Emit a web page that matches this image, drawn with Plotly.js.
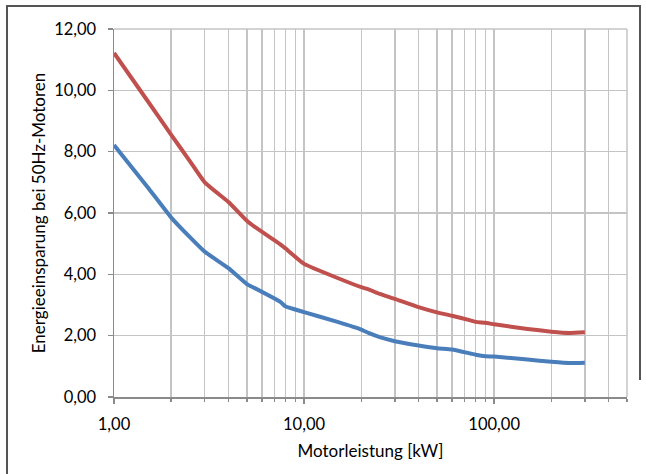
<!DOCTYPE html>
<html>
<head>
<meta charset="utf-8">
<script src="https://cdn.plot.ly/plotly-3.0.1.min.js"></script>
<style>
  html, body { margin: 0; padding: 0; background: #fff; }
  #wrap { position: relative; width: 646px; height: 474px; }
  #chart { position: absolute; left: 0; top: 0; width: 646px; height: 474px; }
  .bl { position: absolute; background: #555; pointer-events: none; }
</style>
</head>
<body>
<div id="wrap">
  <div id="chart"></div>
  <div class="bl" style="left:6px; top:5px; width:1.5px; height:469px;"></div>
  <div class="bl" style="left:6px; top:5px; width:634px; height:1.5px;"></div>
  <div class="bl" style="left:639px; top:5px; width:1.5px; height:375px;"></div>
</div>
<script>
// Motor power [kW]
const powerKW = [1, 1.5, 2, 2.5, 3, 4, 5, 5.5, 7.5, 8, 10, 15, 20, 22, 25, 30, 40, 50, 60, 75, 80, 90, 100, 150, 200, 250, 300];
// Energy saving, upper curve (red)
const savingRed = [11.22, 9.66, 8.55, 7.7, 7.0, 6.36, 5.75, 5.55, 4.98, 4.84, 4.34, 3.88, 3.58, 3.5, 3.36, 3.2, 2.93, 2.76, 2.65, 2.5, 2.45, 2.42, 2.37, 2.22, 2.13, 2.09, 2.11];
// Energy saving, lower curve (blue)
const savingBlue = [8.22, 6.85, 5.85, 5.22, 4.74, 4.2, 3.68, 3.55, 3.1, 2.95, 2.77, 2.45, 2.2, 2.08, 1.95, 1.82, 1.68, 1.59, 1.55, 1.42, 1.38, 1.33, 1.32, 1.22, 1.15, 1.11, 1.12];

const xTickVals = [1, 10, 100];
const yTickVals = [0, 2, 4, 6, 8, 10, 12];

const gridCol = '#c4c4c4';
const axisCol = '#8a8a8a';
const fontFam = 'Lato, "Open Sans", sans-serif';

const traces = [
  { x: powerKW, y: savingRed, type: 'scatter', mode: 'lines',
    line: { color: '#c0504d', width: 4, shape: 'spline', smoothing: 0.4 }, showlegend: false, hoverinfo: 'skip' },
  { x: powerKW, y: savingBlue, type: 'scatter', mode: 'lines',
    line: { color: '#4a7ebb', width: 4, shape: 'spline', smoothing: 0.4 }, showlegend: false, hoverinfo: 'skip' }
];

const layout = {
  width: 646, height: 474,
  margin: { l: 114, r: 19, t: 29, b: 77 },
  paper_bgcolor: 'rgba(0,0,0,0)',
  plot_bgcolor: '#fff',
  separators: ',.',
  font: { family: fontFam, size: 16, color: '#000' },
  xaxis: {
    type: 'log',
    range: [0, Math.log10(500)],
    tickvals: xTickVals,
    tickformat: '.2f',
    ticks: 'outside', ticklen: 5, tickcolor: axisCol, tickwidth: 1.5,
    ticklabelstandoff: 7,
    showline: true, linecolor: axisCol, linewidth: 1.5,
    showgrid: true, gridcolor: gridCol, gridwidth: 1.5,
    mirror: false,
    zeroline: false,
    minor: { dtick: 'D1', showgrid: true, gridcolor: gridCol, gridwidth: 1.5,
             ticks: 'outside', ticklen: 3, tickcolor: axisCol, tickwidth: 1.5 },
    title: { text: 'Motorleistung [kW]', font: { size: 17 }, standoff: 12 },
    tickfont: { size: 16.5 }
  },
  yaxis: {
    range: [0, 12],
    tickvals: yTickVals,
    tickformat: '.2f',
    ticks: 'outside', ticklen: 5, tickcolor: axisCol, tickwidth: 1.5,
    ticklabelstandoff: 8,
    showline: true, linecolor: axisCol, linewidth: 1.5,
    showgrid: true, gridcolor: gridCol, gridwidth: 1.5,
    zeroline: false,
    title: { text: 'Energieeinsparung bei 50Hz-Motoren', font: { size: 17 }, standoff: 4 },
    tickfont: { size: 16.5 }
  },
  shapes: [
    { type: 'line', xref: 'paper', yref: 'paper', x0: 1, x1: 1, y0: 0, y1: 1,
      line: { color: gridCol, width: 1.5 } },
    { type: 'line', xref: 'paper', yref: 'paper', x0: 0, x1: 1, y0: 1, y1: 1,
      line: { color: gridCol, width: 1.5 } }
  ]
};

Plotly.newPlot('chart', traces, layout, { displayModeBar: false, staticPlot: true });
</script>
</body>
</html>
